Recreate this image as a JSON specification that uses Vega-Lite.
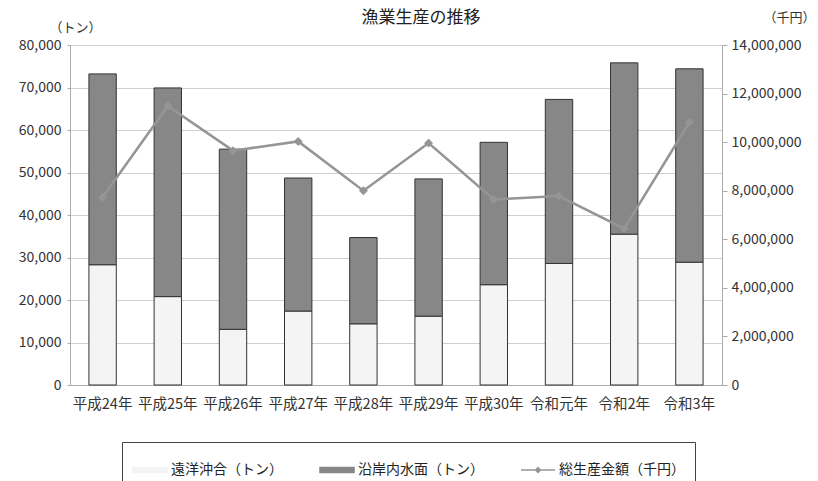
{
  "$schema": "https://vega.github.io/schema/vega-lite/v6.json",
  "width": 652,
  "height": 340,
  "autosize": {"type": "none"},
  "padding": {"left": 70, "top": 45, "right": 96, "bottom": 96},
  "background": "white",
  "config": {
    "font": "Noto Sans CJK JP",
    "view": {"stroke": null},
    "axis": {"labelFont": "Noto Sans CJK JP", "titleFont": "Noto Sans CJK JP", "labelColor": "#333", "titleColor": "#333", "domainColor": "#aaa", "tickColor": "#aaa", "gridColor": "#cfcfcf"}
  },
  "title": {"text": "漁業生産の推移", "fontSize": 17, "fontWeight": "normal", "color": "#222", "font": "Noto Sans CJK JP", "dx": 25, "dy": 20},
  "datasets": {
    "bars": [
      {"year": "平成24年", "series": "遠洋沖合（トン）", "value": 28300},
      {"year": "平成24年", "series": "沿岸内水面（トン）", "value": 44900},
      {"year": "平成25年", "series": "遠洋沖合（トン）", "value": 20800},
      {"year": "平成25年", "series": "沿岸内水面（トン）", "value": 49100},
      {"year": "平成26年", "series": "遠洋沖合（トン）", "value": 13100},
      {"year": "平成26年", "series": "沿岸内水面（トン）", "value": 42400},
      {"year": "平成27年", "series": "遠洋沖合（トン）", "value": 17400},
      {"year": "平成27年", "series": "沿岸内水面（トン）", "value": 31300},
      {"year": "平成28年", "series": "遠洋沖合（トン）", "value": 14400},
      {"year": "平成28年", "series": "沿岸内水面（トン）", "value": 20300},
      {"year": "平成29年", "series": "遠洋沖合（トン）", "value": 16200},
      {"year": "平成29年", "series": "沿岸内水面（トン）", "value": 32300},
      {"year": "平成30年", "series": "遠洋沖合（トン）", "value": 23600},
      {"year": "平成30年", "series": "沿岸内水面（トン）", "value": 33500},
      {"year": "令和元年", "series": "遠洋沖合（トン）", "value": 28600},
      {"year": "令和元年", "series": "沿岸内水面（トン）", "value": 38600},
      {"year": "令和2年", "series": "遠洋沖合（トン）", "value": 35500},
      {"year": "令和2年", "series": "沿岸内水面（トン）", "value": 40300},
      {"year": "令和3年", "series": "遠洋沖合（トン）", "value": 28900},
      {"year": "令和3年", "series": "沿岸内水面（トン）", "value": 45500}
    ],
    "total": [
      {"year": "平成24年", "series": "総生産金額（千円）", "value": 7730000},
      {"year": "平成25年", "series": "総生産金額（千円）", "value": 11490000},
      {"year": "平成26年", "series": "総生産金額（千円）", "value": 9650000},
      {"year": "平成27年", "series": "総生産金額（千円）", "value": 10030000},
      {"year": "平成28年", "series": "総生産金額（千円）", "value": 8000000},
      {"year": "平成29年", "series": "総生産金額（千円）", "value": 9960000},
      {"year": "平成30年", "series": "総生産金額（千円）", "value": 7640000},
      {"year": "令和元年", "series": "総生産金額（千円）", "value": 7780000},
      {"year": "令和2年", "series": "総生産金額（千円）", "value": 6440000},
      {"year": "令和3年", "series": "総生産金額（千円）", "value": 10820000}
    ]
  },
  "encoding": {
    "x": {
      "field": "year", "type": "ordinal",
      "sort": ["平成24年", "平成25年", "平成26年", "平成27年", "平成28年", "平成29年", "平成30年", "令和元年", "令和2年", "令和3年"],
      "scale": {"paddingInner": 0.58, "paddingOuter": 0.29},
      "axis": {"title": null, "labelAngle": 0, "labelFontSize": 14.5, "labelPadding": 12, "ticks": false, "domainColor": "#aaa"}
    }
  },
  "layer": [
    {
      "data": {"name": "bars"},
      "mark": {"type": "bar", "stroke": "#333", "strokeWidth": 1},
      "encoding": {
        "y": {
          "field": "value", "type": "quantitative", "stack": "zero",
          "scale": {"domain": [0, 80000]},
          "axis": {"title": "（トン）", "titleAngle": 0, "titleAlign": "center", "titleBaseline": "middle", "titleX": 5, "titleY": -18, "titleFontSize": 13, "titleFontWeight": "normal", "format": ",d", "tickCount": 8, "labelFontSize": 14, "tickSize": 3, "labelPadding": 6, "grid": true}
        },
        "color": {
          "field": "series", "type": "nominal",
          "scale": {"domain": ["遠洋沖合（トン）", "沿岸内水面（トン）", "総生産金額（千円）"], "range": ["#f4f4f4", "#878787", "#959595"]},
          "legend": {
            "title": null, "orient": "none", "direction": "horizontal", "columns": 3,
            "legendX": 52, "legendY": 397, "padding": 10, "strokeColor": "#444",
            "labelFontSize": 14, "labelColor": "#222", "labelFont": "Noto Sans CJK JP",
            "columnPadding": 34, "symbolSize": 1156, "labelOffset": 3,
            "symbolType": {"expr": "datum.value === '総生産金額（千円）' ? 'M-1,0H1M-0.14,0L0,-0.14L0.14,0L0,0.14Z' : 'M-1,-0.15H1V0.15H-1Z'"},
            "encode": {
              "symbols": {
                "stroke": {"value": {"expr": "datum.value === '総生産金額（千円）' ? '#959595' : '#333'"}},
                "strokeWidth": {"value": {"expr": "datum.value === '総生産金額（千円）' ? 2 : 1.2"}}
              }
            }
          }
        }
      }
    },
    {
      "data": {"name": "total"},
      "mark": {"type": "line", "strokeWidth": 2.5, "point": {"shape": "diamond", "filled": true, "size": 80, "color": "#959595"}},
      "encoding": {
        "y": {
          "field": "value", "type": "quantitative",
          "scale": {"domain": [0, 14000000]},
          "axis": {"orient": "right", "title": "（千円）", "titleAngle": 0, "titleAlign": "center", "titleBaseline": "middle", "titleX": 67, "titleY": -28, "titleFontSize": 13, "titleFontWeight": "normal", "format": ",d", "tickCount": 7, "labelFontSize": 14, "tickSize": 5, "labelPadding": 4, "grid": false}
        },
        "color": {"field": "series", "type": "nominal", "legend": null}
      }
    }
  ],
  "resolve": {"scale": {"y": "independent"}}
}
